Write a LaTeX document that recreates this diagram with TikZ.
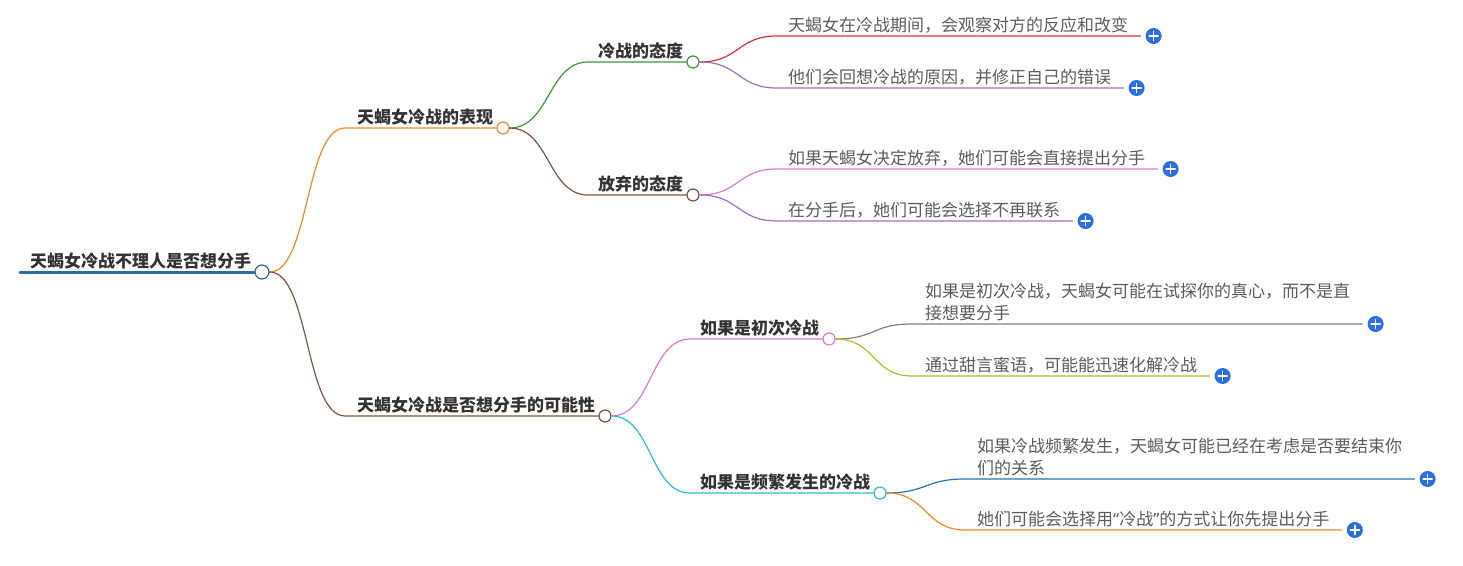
\documentclass[tikz,border=0pt]{standalone}
\usepackage{fontspec}
\setmainfont{Noto Sans CJK SC}
\newfontfamily\quotefont{Noto Sans}
\usepackage{tikz}
\usetikzlibrary{positioning}
\definecolor{ink}{HTML}{333333}
\definecolor{leafink}{HTML}{5C5C5C}
\definecolor{rootblue}{HTML}{2E6DA4}
\definecolor{corange}{HTML}{F5892A}
\definecolor{cbrown}{HTML}{7A5446}
\definecolor{cgreen}{HTML}{3A9B35}
\definecolor{cred}{HTML}{D7323A}
\definecolor{cpurple}{HTML}{9B72C0}
\definecolor{cpink}{HTML}{E07BC8}
\definecolor{cgray}{HTML}{808080}
\definecolor{colive}{HTML}{B5BA2A}
\definecolor{ccyan}{HTML}{2BBFCB}
\definecolor{cblue}{HTML}{2B71AE}
\definecolor{plusblue}{HTML}{2A6FE8}

\begin{document}
\begin{tikzpicture}[x=1pt, y=-1pt, line cap=round,
  topic/.style={anchor=south west, inner xsep=0pt, inner ysep=2.5pt,
                font=\bfseries\fontsize{17}{20}\selectfont, text=ink},
  leaf/.style={anchor=south west, inner xsep=0pt, inner ysep=2.5pt, align=left,
               font=\fontsize{17}{22}\selectfont, text=leafink},
  knob/.style={circle, draw=#1, fill=white, line width=1.2pt,
               minimum size=12pt, inner sep=0pt},
  branch/.style={draw=#1, line width=1.2pt},
  plusicon/.style={circle, fill=plusblue, minimum size=16pt, inner sep=0pt,
    path picture={\draw[white, line width=1.6pt]
      ([xshift=-4.5pt]path picture bounding box.center) -- ([xshift=4.5pt]path picture bounding box.center)
      ([yshift=-4.5pt]path picture bounding box.center) -- ([yshift=4.5pt]path picture bounding box.center);}}]
  \useasboundingbox (0,0) rectangle (1463,565);

  % root
  \node[topic, inner ysep=3pt] (root) at (30,272) {天蝎女冷战不理人是否想分手};
  \node[knob=rootblue, minimum size=14pt, right=3pt of root.south east] (rootk) {};
  \draw[rootblue, line width=3pt] ([xshift=-10pt]root.south west) -- (rootk.west);

  % first level
  \node[topic] (show) at (357,128) {天蝎女冷战的表现};
  \node[knob=corange, right=3pt of show.south east] (showk) {};
  \node[topic] (chance) at (357,416) {天蝎女冷战是否想分手的可能性};
  \node[knob=cbrown, right=3pt of chance.south east] (chancek) {};
  \draw[branch=corange] (rootk.east) .. controls +(40,0) and +(-40,0) .. ([xshift=-12pt]show.south west) -- (showk.west);
  \draw[branch=cbrown] (rootk.east) .. controls +(40,0) and +(-40,0) .. ([xshift=-12pt]chance.south west) -- (chancek.west);

  % second level
  \node[topic] (cold) at (598,62) {冷战的态度};
  \node[knob=cgreen, right=3pt of cold.south east] (coldk) {};
  \node[topic] (quit) at (598,195) {放弃的态度};
  \node[knob=cbrown, right=3pt of quit.south east] (quitk) {};
  \node[topic] (first) at (700,339) {如果是初次冷战};
  \node[knob=cpink, right=3pt of first.south east] (firstk) {};
  \node[topic] (often) at (700,493) {如果是频繁发生的冷战};
  \node[knob=ccyan, right=3pt of often.south east] (oftenk) {};
  \draw[branch=cgreen] (showk.east) .. controls +(40,0) and +(-40,0) .. ([xshift=-10pt]cold.south west) -- (coldk.west);
  \draw[branch=cbrown] (showk.east) .. controls +(40,0) and +(-40,0) .. ([xshift=-10pt]quit.south west) -- (quitk.west);
  \draw[branch=cpink] (chancek.east) .. controls +(40,0) and +(-40,0) .. ([xshift=-10pt]first.south west) -- (firstk.west);
  \draw[branch=ccyan] (chancek.east) .. controls +(40,0) and +(-40,0) .. ([xshift=-10pt]often.south west) -- (oftenk.west);

  % leaves
  \node[leaf] (watch) at (788,36) {天蝎女在冷战期间，会观察对方的反应和改变};
  \node[leaf] (recall) at (788,88) {他们会回想冷战的原因，并修正自己的错误};
  \node[leaf] (direct) at (788,169) {如果天蝎女决定放弃，她们可能会直接提出分手};
  \node[leaf] (nomore) at (788,221) {在分手后，她们可能会选择不再联系};
  \node[leaf] (probe) at (925,324) {如果是初次冷战，天蝎女可能在试探你的真心，而不是直\\接想要分手};
  \node[leaf] (sweet) at (925,376) {通过甜言蜜语，可能能迅速化解冷战};
  \node[leaf] (endit) at (977,479) {如果冷战频繁发生，天蝎女可能已经在考虑是否要结束你\\们的关系};
  \node[leaf] (letyou) at (977,530) {她们可能会选择用{\quotefont“}冷战{\quotefont”}的方式让你先提出分手};

  \draw[branch=cred] (coldk.east) .. controls +(40,0) and +(-40,0) .. ([xshift=-11pt]watch.south west) -- ([xshift=12pt]watch.south east);
  \draw[branch=cpurple] (coldk.east) .. controls +(40,0) and +(-40,0) .. ([xshift=-11pt]recall.south west) -- ([xshift=12pt]recall.south east);
  \draw[branch=cpink] (quitk.east) .. controls +(40,0) and +(-40,0) .. ([xshift=-11pt]direct.south west) -- ([xshift=12pt]direct.south east);
  \draw[branch=cpurple] (quitk.east) .. controls +(40,0) and +(-40,0) .. ([xshift=-11pt]nomore.south west) -- ([xshift=12pt]nomore.south east);
  \draw[branch=cgray] (firstk.east) .. controls +(40,0) and +(-40,0) .. ([xshift=-13pt]probe.south west) -- ([xshift=12pt]probe.south east);
  \draw[branch=colive] (firstk.east) .. controls +(40,0) and +(-40,0) .. ([xshift=-13pt]sweet.south west) -- ([xshift=12pt]sweet.south east);
  \draw[branch=cblue] (oftenk.east) .. controls +(40,0) and +(-40,0) .. ([xshift=-12pt]endit.south west) -- ([xshift=12pt]endit.south east);
  \draw[branch=corange] (oftenk.east) .. controls +(40,0) and +(-40,0) .. ([xshift=-12pt]letyou.south west) -- ([xshift=12pt]letyou.south east);

  \foreach \n in {watch,recall,direct,nomore,probe,sweet,endit,letyou}
    \node[plusicon, right=17pt of \n.south east] (\n-plus) {};
\end{tikzpicture}
\end{document}
